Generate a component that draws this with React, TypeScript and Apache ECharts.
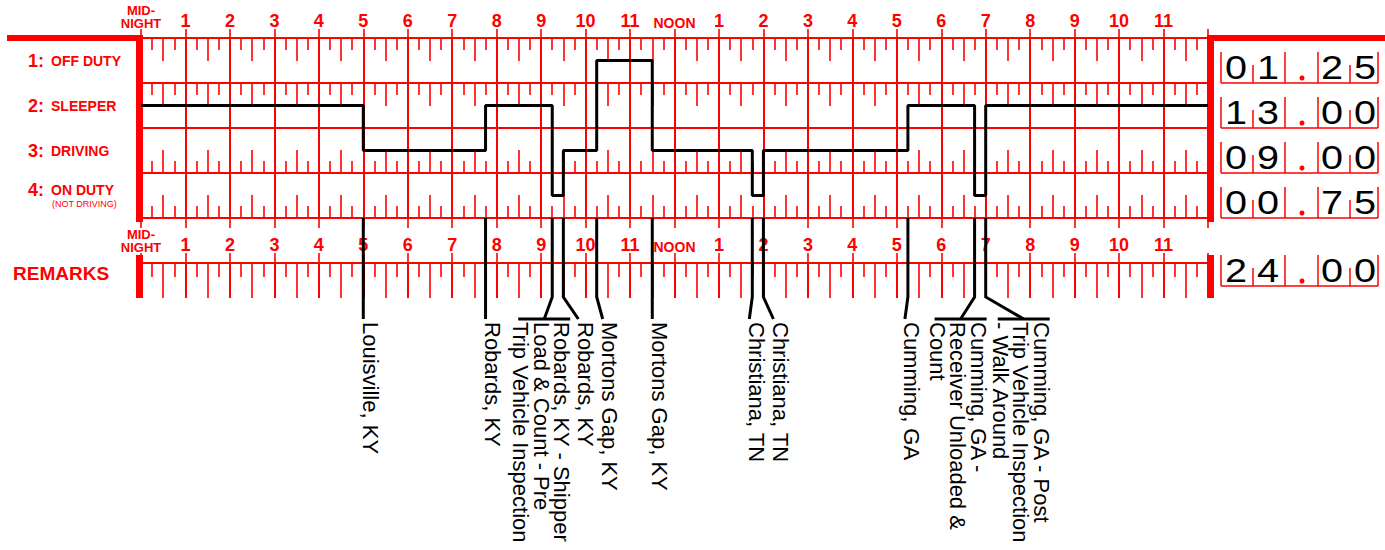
import React, { useEffect, useRef } from 'react';
import * as echarts from 'echarts';

// ---------- data ----------
const statusCategories = ['OFF DUTY', 'SLEEPER', 'DRIVING', 'ON DUTY'];
const dutyChangeTimes = [0, 5, 7.75, 9.25, 9.5, 10.25, 11.5, 13.75, 14, 17.25, 18.75, 19, 24];
const dutyStatuses = [
  'SLEEPER', 'DRIVING', 'SLEEPER', 'ON DUTY', 'DRIVING', 'OFF DUTY',
  'DRIVING', 'ON DUTY', 'DRIVING', 'SLEEPER', 'ON DUTY', 'SLEEPER', 'SLEEPER',
];
const remarkTimes = [5, 7.75, 9.25, 9.5, 10.25, 11.5, 13.75, 14, 17.25, 18.75, 19];
const remarkTexts = [
  'Louisville, KY',
  'Robards, KY',
  'Robards, KY - Shipper\nLoad & Count - Pre\nTrip Vehicle Inspection',
  'Robards, KY',
  'Mortons Gap, KY',
  'Mortons Gap, KY',
  'Christiana, TN',
  'Christiana, TN',
  'Cumming, GA',
  'Cumming, GA -\nReceiver Unloaded &\nCount',
  'Cumming, GA - Post\nTrip Vehicle Inspection\n- Walk Around',
];
const hourLabelMidnight = 'MID-\nNIGHT';
const hourLabelNoon = 'NOON';

// ---------- layout / style ----------
const RED = '#ff0000';
const FONT = '"Liberation Sans", Arial, Helvetica, sans-serif';
// horizontal bend of each remark leader (pixels), to keep labels apart
const REMARK_LEADER_SHIFT = [0, 0, -8, 15, 6, 0, -3, 10, -3, -14, 38];

function computeTotals(): number[] {
  const totals = statusCategories.map(() => 0);
  for (let i = 0; i < dutyChangeTimes.length - 1; i++) {
    const idx = statusCategories.indexOf(dutyStatuses[i]);
    totals[idx] += dutyChangeTimes[i + 1] - dutyChangeTimes[i];
  }
  return totals;
}
function fmtHours(h: number): string {
  const whole = Math.floor(h);
  const frac = Math.round((h - whole) * 100);
  return String(whole).padStart(2, '0') + '.' + String(frac).padStart(2, '0');
}

function totalBox(xR: number, yB: number, label: string) {
  const ch: any[] = [];
  const seps = [[13, 31], [45, 18], [77, 31], [110, 31], [142, 18], [170, 31]];
  seps.forEach(([dx, h]) =>
    ch.push({ type: 'line', shape: { x1: xR + dx, y1: yB - h, x2: xR + dx, y2: yB }, style: { stroke: RED, lineWidth: 1.5 } })
  );
  ch.push({ type: 'line', shape: { x1: xR + 13, y1: yB, x2: xR + 170, y2: yB }, style: { stroke: RED, lineWidth: 1.5 } });
  const digits = label.replace('.', '');
  [28, 60, 124, 157].forEach((dx, k) =>
    ch.push({
      type: 'text', x: xR + dx, y: yB - 15, scaleX: 1.2,
      style: { text: digits[k], textAlign: 'center', textVerticalAlign: 'middle', align: 'center', verticalAlign: 'middle', fontSize: 33, fontFamily: FONT, fill: '#000' },
    })
  );
  ch.push({ type: 'circle', shape: { cx: xR + 94, cy: yB - 5, r: 2.5 }, style: { fill: RED } });
  return { type: 'group', children: ch };
}

const hourFormatter = (v: number) => {
  if (v === 0) return hourLabelMidnight.split('\n').map((s) => `{m|${s}}`).join('\n');
  if (v === 12) return `{n|${hourLabelNoon}}`;
  if (v === 24) return '';
  return String(v > 12 ? v - 12 : v);
};
const hourRich = {
  m: { fontSize: 13, fontWeight: 'bold', lineHeight: 13, color: RED, fontFamily: FONT },
  n: { fontSize: 14, fontWeight: 'bold', color: RED, fontFamily: FONT },
};

function rulerAxis(gridIndex: number, position: string, offset: number, major: number, minor: number) {
  return {
    gridIndex, type: 'value', min: 0, max: 24, interval: 0.5, position, offset,
    axisLine: { show: false, onZero: false },
    axisTick: { show: true, inside: true, length: major, lineStyle: { color: RED, width: 1.6 } },
    minorTick: { show: true, splitNumber: 2, length: minor, lineStyle: { color: RED, width: 1.6 } },
    axisLabel: { show: false },
    splitLine: { show: false },
  };
}

export default function App() {
  const ref = useRef<HTMLDivElement>(null);
  useEffect(() => {
    document.body.style.margin = '0';
    const chart = echarts.init(ref.current!, null, { renderer: 'svg' });
    const totals = computeTotals();
    const totalLabels = totals.map(fmtHours);
    const grandTotal = fmtHours(totals.reduce((a, b) => a + b, 0));

    const option: any = {
      animation: false,
      backgroundColor: '#fff',
      grid: [
        { left: 141, right: 177, top: 38, height: 180, outerBoundsMode: 'none', containLabel: false },
        { left: 141, right: 177, top: 263, height: 35, outerBoundsMode: 'none', containLabel: false },
      ],
      xAxis: [
        {
          gridIndex: 0, type: 'value', min: 0, max: 24, interval: 1, position: 'top',
          axisLine: { show: true, onZero: false, lineStyle: { color: RED, width: 2 } },
          axisTick: { show: true, length: 9, lineStyle: { color: RED, width: 1.6 } },
          axisLabel: { show: true, formatter: hourFormatter, rich: hourRich, color: RED, fontSize: 18, fontWeight: 'bold', fontFamily: FONT, margin: 8, showMinLabel: true, showMaxLabel: true },
          splitLine: { show: true, lineStyle: { color: RED, width: 2 } },
        },
        rulerAxis(0, 'top', 0, 23, 12),
        rulerAxis(0, 'top', -45, 23, 12),
        rulerAxis(0, 'bottom', -45, 23, 12),
        rulerAxis(0, 'bottom', 0, 23, 12),
        {
          gridIndex: 0, type: 'value', min: 0, max: 24, interval: 1, position: 'bottom',
          axisLine: { show: true, onZero: false, lineStyle: { color: RED, width: 2 } },
          axisTick: { show: true, length: 10, lineStyle: { color: RED, width: 1.6 } },
          axisLabel: { show: false },
          splitLine: { show: false },
        },
        {
          gridIndex: 1, type: 'value', min: 0, max: 24, interval: 1, position: 'top',
          axisLine: { show: true, onZero: false, lineStyle: { color: RED, width: 2 } },
          axisTick: { show: true, length: 10, lineStyle: { color: RED, width: 1.6 } },
          axisLabel: { show: true, formatter: hourFormatter, rich: hourRich, color: RED, fontSize: 18, fontWeight: 'bold', fontFamily: FONT, margin: 9, showMinLabel: true, showMaxLabel: true },
          splitLine: { show: true, lineStyle: { color: RED, width: 2 } },
        },
        rulerAxis(1, 'top', 0, 35, 14),
      ],
      yAxis: [
        {
          gridIndex: 0, type: 'category', data: statusCategories, inverse: true,
          axisLine: { show: false }, axisTick: { show: false },
          splitLine: { show: true, interval: 0, lineStyle: { color: RED, width: 2 } },
          axisLabel: {
            interval: 0, align: 'left', margin: 113, color: RED, fontFamily: FONT,
            formatter: (v: string, i: number) =>
              `{n|${i + 1}:}{t|${v}}` + (v === 'ON DUTY' ? '\n{s|(NOT DRIVING)}' : ''),
            rich: {
              n: { fontSize: 18, fontWeight: 'bold', lineHeight: 16, color: RED, fontFamily: FONT },
              t: { fontSize: 14, fontWeight: 'bold', lineHeight: 16, color: RED, fontFamily: FONT, padding: [0, 0, 0, 7] },
              s: { fontSize: 9, lineHeight: 11, color: RED, fontFamily: FONT, padding: [0, 0, 0, 24] },
            },
          },
        },
        { gridIndex: 1, type: 'value', min: 0, max: 1, inverse: true, show: false },
      ],
      graphic: [
        { type: 'rect', shape: { x: 7, y: 35, width: 136, height: 6 }, style: { fill: RED } },
        { type: 'rect', shape: { x: 136, y: 35, width: 7, height: 187 }, style: { fill: RED } },
        { type: 'rect', shape: { x: 1207, y: 35, width: 178, height: 6 }, style: { fill: RED } },
        { type: 'rect', shape: { x: 1207, y: 35, width: 7, height: 187 }, style: { fill: RED } },
        { type: 'rect', shape: { x: 136, y: 255, width: 7, height: 43 }, style: { fill: RED } },
        { type: 'rect', shape: { x: 1207, y: 255, width: 7, height: 43 }, style: { fill: RED } },
        {
          type: 'text', x: 13, y: 273,
          style: { text: 'REMARKS', fill: RED, fontSize: 19, fontWeight: 'bold', fontFamily: FONT, textVerticalAlign: 'middle', verticalAlign: 'middle' },
        },
      ],
      series: [
        {
          type: 'line', xAxisIndex: 0, yAxisIndex: 0, step: 'start', symbol: 'none', z: 5,
          data: dutyChangeTimes.map((t, i) => [t, dutyStatuses[i]]),
          lineStyle: { color: '#000', width: 3 },
        },
        {
          type: 'custom', xAxisIndex: 0, yAxisIndex: 0, z: 6,
          data: remarkTimes.map((t) => [t, 3]),
          renderItem: (params: any, api: any) => {
            const i = params.dataIndex;
            const t = api.value(0);
            const c = api.coord([t, 3]);
            const rowH = api.size([0, 1])[1];
            const x = c[0];
            const yTop = c[1] + rowH / 2;
            const shift = REMARK_LEADER_SHIFT[i];
            const yBend = yTop + 79;
            const yEnd = yTop + 101;
            const text = remarkTexts[i];
            const nLines = text.split('\n').length;
            const xe = x + shift;
            const children: any[] = [];
            children.push({
              type: 'polyline',
              shape: { points: shift === 0 ? [[x, yTop], [x, yEnd]] : [[x, yTop], [x, yBend], [xe, yEnd]] },
              style: { stroke: '#000', lineWidth: 3, fill: 'none' },
            });
            if (nLines > 1) {
              children.push({ type: 'line', shape: { x1: xe - 26, y1: yEnd, x2: xe + 26, y2: yEnd }, style: { stroke: '#000', lineWidth: 3 } });
            }
            children.push({
              type: 'text', x: nLines > 1 ? xe - 3 : xe + 7, y: yEnd + 3, rotation: -Math.PI / 2,
              style: {
                text, textAlign: 'left', textVerticalAlign: 'middle', align: 'left', verticalAlign: 'middle',
                fontSize: 22, lineHeight: 20.5, fontFamily: FONT, fill: '#000',
              },
            });
            return { type: 'group', children };
          },
        },
        {
          type: 'custom', xAxisIndex: 0, yAxisIndex: 0, z: 6,
          data: statusCategories.map((_, i) => [24, i]),
          renderItem: (params: any, api: any) => {
            const i = params.dataIndex;
            const c = api.coord([24, i]);
            const rowH = api.size([0, 1])[1];
            return totalBox(c[0], c[1] + rowH / 2, totalLabels[i]);
          },
        },
        {
          type: 'custom', xAxisIndex: 6, yAxisIndex: 1, z: 6,
          data: [[24, 1]],
          renderItem: (params: any, api: any) => {
            const c = api.coord([24, 1]);
            return totalBox(c[0], c[1] - 12, grandTotal);
          },
        },
      ],
    };
    chart.setOption(option);
    return () => chart.dispose();
  }, []);
  return <div ref={ref} style={{ width: 1385, height: 550 }} />;
}
